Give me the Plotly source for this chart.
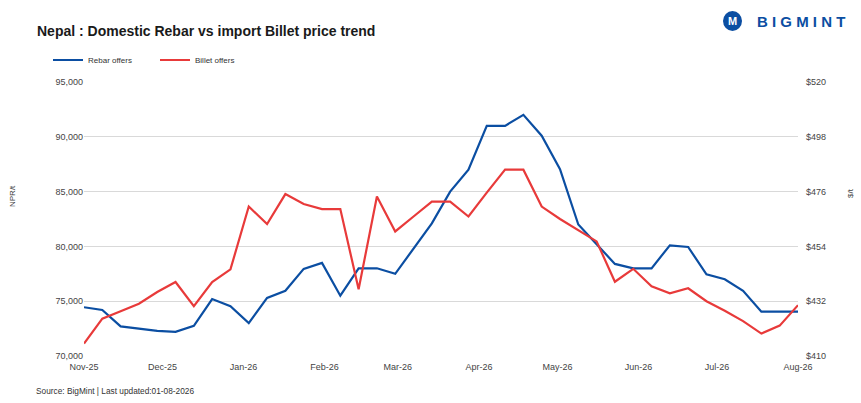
import pandas as pd
import plotly.graph_objects as go

# weekly observations, Nov-25 .. Aug-26
dates = pd.date_range("2025-11-01", periods=40, freq="7D")

rebar_npr = [74450, 74200, 72700, 72500, 72300, 72200, 72750, 75200, 74550, 73000,
             75300, 75950, 77950, 78500, 75500, 78000, 78000, 77500, 79800, 82100,
             85000, 87000, 91000, 91000, 92000, 90100, 87050, 82000, 80200, 78400,
             78000, 78000, 80100, 79950, 77450, 77000, 75950, 74050, 74050, 74050]

billet_usd = [415, 425, 428, 431, 435.7, 439.7, 430, 439.7, 444.8, 470,
              463, 475, 471, 469, 469, 436.8, 474, 460, 466, 472,
              472, 466, 475.6, 484.8, 484.8, 470, 465, 460.4, 456, 439.8,
              445, 438, 435.2, 437.2, 432, 428.2, 424, 419, 422.2, 430.4]

left_ticks = [70000, 75000, 80000, 85000, 90000, 95000]
right_ticks = [410, 432, 454, 476, 498, 520]

blue = "#0b4ea2"
red = "#e83a3a"
font = "Liberation Sans"

fig = go.Figure()
fig.add_trace(go.Scatter(x=dates, y=rebar_npr, name="Rebar offers", mode="lines",
                         line=dict(color=blue, width=2.2)))
fig.add_trace(go.Scatter(x=dates, y=billet_usd, name="Billet offers", mode="lines",
                         line=dict(color=red, width=2.2), yaxis="y2"))

fig.update_layout(
    width=861, height=403,
    margin=dict(l=84, r=63, t=82, b=47, autoexpand=False),
    paper_bgcolor="white", plot_bgcolor="white",
    font=dict(family=font, size=9, color="#444"),
    showlegend=True,
    legend=dict(orientation="h", xref="container", yref="container",
                x=48 / 861, y=1 - 60 / 403, xanchor="left", yanchor="middle",
                font=dict(size=8, color="#333"), itemwidth=30,
                entrywidth=62, entrywidthmode="pixels"),
    xaxis=dict(type="date", range=[dates[0], dates[-1]], dtick="M1",
               tickformat="%b-%y", showgrid=False, ticks="", showline=False,
               automargin=False, ticklabelstandoff=4,
               tickfont=dict(size=9, color="#444")),
    yaxis=dict(range=[70000, 95000], tickvals=left_ticks,
               ticktext=[f"{v:,}" for v in left_ticks],
               gridcolor="#d9d9d9", zeroline=False, showline=False, ticks="",
               automargin=False, tickfont=dict(size=9, color="#444")),
    yaxis2=dict(range=[410, 520], tickvals=right_ticks,
                ticktext=[f"${v}" for v in right_ticks],
                overlaying="y", side="right", showgrid=False, zeroline=False,
                ticks="", automargin=False, ticklabelstandoff=7,
                tickfont=dict(size=9, color="#444")),
)

fig.add_annotation(text="<b>Nepal : Domestic Rebar vs import Billet price trend</b>",
                   xref="paper", yref="paper", x=(35 - 84) / 714, y=(356 - 31) / 274,
                   xanchor="left", yanchor="middle", showarrow=False,
                   font=dict(family=font, size=14, color="#1a1a1a"))
fig.add_annotation(text="NPR/t", xref="paper", yref="paper", x=(12 - 84) / 714,
                   y=(356 - 196) / 274, xanchor="center", yanchor="middle",
                   textangle=-90, showarrow=False, font=dict(size=8, color="#444"))
fig.add_annotation(text="$/t", xref="paper", yref="paper", x=(850 - 84) / 714,
                   y=(356 - 193) / 274, xanchor="center", yanchor="middle",
                   textangle=-90, showarrow=False, font=dict(size=8, color="#444"))
fig.add_annotation(text="Source: BigMint | Last updated:01-08-2026",
                   xref="paper", yref="paper", x=(34 - 84) / 714, y=(356 - 391) / 274,
                   xanchor="left", yanchor="middle", showarrow=False,
                   font=dict(size=8.3, color="#333"))

# logo
fig.add_shape(type="circle", xref="paper", yref="paper", layer="below",
              x0=(723 - 84) / 714, x1=(742 - 84) / 714,
              y0=(356 - 31) / 274, y1=(356 - 11) / 274,
              fillcolor=blue, line=dict(width=0))
fig.add_annotation(text="<b>M</b>", xref="paper", yref="paper",
                   x=(732.5 - 84) / 714, y=(356 - 21) / 274,
                   xanchor="center", yanchor="middle", showarrow=False,
                   font=dict(family=font, size=11, color="white"))
fig.add_annotation(text="<b>B I G M I N T</b>", xref="paper", yref="paper",
                   x=(755 - 84) / 714, y=(356 - 21) / 274, xanchor="left",
                   yanchor="middle", showarrow=False,
                   font=dict(family=font, size=15, color=blue))

fig.write_html("out.html", config={"displayModeBar": False},
               post_script="document.body.style.margin='0';")
